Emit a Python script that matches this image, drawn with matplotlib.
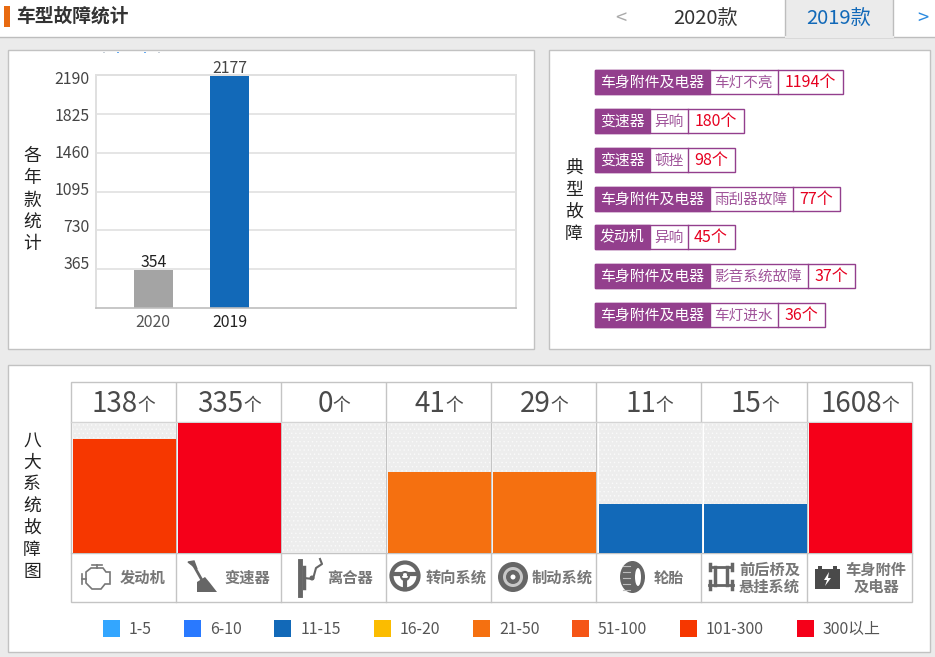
import matplotlib
matplotlib.use("Agg")
import numpy as np
import matplotlib.pyplot as plt
from matplotlib.patches import Rectangle, Circle, Ellipse, Polygon

plt.rcParams['font.family'] = ['Noto Sans CJK SC', 'DejaVu Sans']
plt.rcParams['hatch.linewidth'] = 0.5

# data
year_labels = ['2020', '2019']
year_counts = [354, 2177]
year_ticks = [365, 730, 1095, 1460, 1825, 2190]

fault_parts = ['车身附件及电器', '变速器', '变速器', '车身附件及电器', '发动机', '车身附件及电器', '车身附件及电器']
fault_names = ['车灯不亮', '异响', '顿挫', '雨刮器故障', '异响', '影音系统故障', '车灯进水']
fault_counts = [1194, 180, 98, 77, 45, 37, 36]

system_names = ['发动机', '变速器', '离合器', '转向系统', '制动系统', '轮胎', '前后桥及\n悬挂系统', '车身附件\n及电器']
system_counts = [138, 335, 0, 41, 29, 11, 15, 1608]
system_heights = [88, 100, 0, 62.5, 62.5, 37.5, 37.5, 100]

band_labels = ['1-5', '6-10', '11-15', '16-20', '21-50', '51-100', '101-300', '300以上']
band_limits = [5, 10, 15, 20, 50, 100, 300]
band_colors = ['#33a6ff', '#2979ff', '#1269b8', '#fbbc00', '#f57010', '#f55516', '#f63700', '#f50019']

# layout, pixels of the 935x657 picture
W, H = 935, 657
tag_top = [69.5, 108.5, 147.5, 186.5, 224.5, 263.5, 302.5]
tag_mid = [709.5, 649.5, 649.5, 709.5, 649.5, 709.5, 709.5]
tag_val = [777.5, 687.5, 687.5, 792.5, 687.5, 807.5, 777.5]
tag_end = [842.5, 743.5, 734.5, 839.5, 734.5, 854.5, 824.5]
legend_box = [103, 184, 274, 374, 473, 572, 680, 797]
legend_txt = [129, 210, 301, 400, 499, 598, 706, 823]
icon_label_x = [143, 247, 350, 456, 562, 669, 769.5, 876]
PURPLE = '#933f8d'
LINE = '#c4c4c4'


def px_rect(l, t, r, b):
    return [l / W, 1 - b / H, (r - l) / W, (b - t) / H]


def band_color(n):
    for limit, color in zip(band_limits, band_colors):
        if n <= limit:
            return color
    return band_colors[-1]


def stacked(ax, x, y0, s):
    for i, ch in enumerate(s):
        ax.text(x, y0 + 1.5 + i * 22, ch, fontsize=12.8, color='#222222', ha='center', va='center')


def number_unit(ax, cx, y, num, size1, size2, color, gap=0):
    # number and 个 centred together as one label
    a = ax.text(cx, y, str(num), fontsize=size1, color=color, ha='left', va='center')
    b = ax.text(cx, y + 2, '个', fontsize=size2, color=color, ha='left', va='center')
    r = fig.canvas.get_renderer()
    w1 = a.get_window_extent(r).width
    w2 = b.get_window_extent(r).width
    left = cx - (w1 + w2 + gap) / 2
    a.set_x(left)
    b.set_x(left + w1 + gap)


fig = plt.figure(figsize=(W / 100, H / 100), dpi=100)

# page chrome
bg = fig.add_axes([0, 0, 1, 1], zorder=0)
bg.set_xlim(0, W)
bg.set_ylim(H, 0)
bg.axis('off')
bg.add_patch(Rectangle((0, 0), W, H, fc='#ebebeb', ec='none'))
bg.add_patch(Rectangle((0, 0), W, 37, fc='white', ec='none'))
bg.plot([0, W], [37, 37], color='#bdbdbd', lw=1)
bg.add_patch(Rectangle((785, -2), 108, 39, fc='#ebebeb', ec='#bdbdbd', lw=1))
bg.plot([785.5, 892.5], [37, 37], color='#ebebeb', lw=1.5)
bg.add_patch(Rectangle((4, 6), 6, 21, fc='#e86a10', ec='none'))
bg.text(16, 16.5, '车型故障统计', fontsize=13.5, color='#333333', va='center', weight='bold')
bg.text(621, 18, '<', fontsize=14.5, color='#aaaaaa', ha='center', va='center')
bg.text(706, 18.5, '2020款', fontsize=14.5, color='#333333', ha='center', va='center')
bg.text(839, 18.5, '2019款', fontsize=14.5, color='#1269b8', ha='center', va='center')
bg.text(923, 18, '>', fontsize=14.5, color='#2a8ae0', ha='center', va='center')

for l, t, r, b in [(8, 50, 533.5, 349), (549, 50, 930, 349), (8, 365, 930, 652)]:
    bg.add_patch(Rectangle((l, t), r - l, b - t, fc='white', ec='#c2c2c2', lw=1))

# clipped legend specks at the top of the first panel
for x, c in zip([103, 117, 144, 158], ['#c8d0d8', '#66aaf0', '#66aaf0', '#c8d0d8']):
    bg.add_patch(Rectangle((x, 51.5), 2, 1.2, fc=c, ec='none'))

stacked(bg, 32, 155, '各年款统计')
stacked(bg, 574, 167, '典型故障')
stacked(bg, 32, 439, '八大系统故障图')

# yearly bars
ax = fig.add_axes(px_rect(96.3, 75, 516, 308), zorder=2)
ax.patch.set_alpha(0)
ax.set_ylim(0, 2190)
ax.set_xlim(-0.745, 4.745)
ax.set_yticks(year_ticks)
ax.set_yticklabels([])
ax.set_xticks([0, 1])
ax.set_xticklabels(year_labels, fontsize=11.4)
ax.get_xticklabels()[0].set_color('#555555')
ax.get_xticklabels()[1].set_color('#222222')
ax.tick_params(length=0, pad=4)
ax.grid(axis='y', color='#e0e0e0', lw=1.2)
ax.set_axisbelow(True)
for s in ['left', 'right', 'top']:
    ax.spines[s].set_color('#e0e0e0')
    ax.spines[s].set_linewidth(1.4)
ax.spines['bottom'].set_color('#bdbdbd')
ax.spines['bottom'].set_linewidth(1.2)
bars = ax.bar(range(len(year_counts)), year_counts, width=0.51, color=['#a4a4a4', '#1269b8'])
for b, v, c in zip(bars, year_counts, ['#222222', '#444444']):
    ax.annotate(str(v), (b.get_x() + b.get_width() / 2, v), xytext=(0, -0.5), textcoords='offset points',
                ha='center', va='bottom', fontsize=11.4, color=c)
# the page draws the tick labels on a slightly tighter step than the grid
for i, v in enumerate(year_ticks):
    bg.text(89.5, 264.5 - i * 37, str(v), fontsize=11.4, color='#444444', ha='right', va='center')

# typical faults
for i in range(len(fault_parts)):
    t, b = tag_top[i], tag_top[i] + 24
    bg.add_patch(Rectangle((595, t), tag_end[i] - 595, b - t, fc='white', ec=PURPLE, lw=1))
    bg.add_patch(Rectangle((595, t), tag_mid[i] - 595, b - t, fc=PURPLE, ec=PURPLE, lw=1))
    bg.plot([tag_val[i], tag_val[i]], [t, b], color=PURPLE, lw=1)
    yc = t + 13
    bg.text((595 + tag_mid[i]) / 2, yc, fault_parts[i], fontsize=10.7, color='white', ha='center', va='center')
    bg.text((tag_mid[i] + tag_val[i]) / 2, yc, fault_names[i], fontsize=10.5, color='#a0549a', ha='center', va='center')
    bg.text((tag_val[i] + tag_end[i]) / 2, yc, f'{fault_counts[i]}个', fontsize=11.5, color='#e60020', ha='center', va='center')

# eight systems table
bg.add_patch(Rectangle((71, 382), 841, 220, fc='white', ec=LINE, lw=1))
col_step = (912.3 - 71) / 8
for i in range(1, 8):
    x = 70.5 + i * col_step
    bg.plot([x, x], [383, 602], color=LINE, lw=1)
bg.plot([71, 912], [422, 422], color='#d4d4d4', lw=1)
bg.plot([71, 912], [553, 553], color=LINE, lw=1)
for i, n in enumerate(system_counts):
    number_unit(bg, 71 + (i + 0.5) * col_step, 404, n, 20, 12.8, '#4a4a4a')

ax2 = fig.add_axes(px_rect(71.7, 423, 913, 553), zorder=2)
ax2.patch.set_alpha(0)
ax2.set_xlim(-0.5, 7.5)
ax2.set_ylim(0, 100)
ax2.axis('off')
xs = np.arange(len(system_counts))
ax2.bar(xs, [100] * len(xs), width=0.98, color='#ededed', edgecolor='#fafafa', hatch='....', lw=0)
ax2.bar(xs, system_heights, width=0.98, color=[band_color(n) for n in system_counts], lw=0)

for name, x in zip(system_names, icon_label_x):
    if '\n' in name:
        top, bottom = name.split('\n')
        bg.text(x, 570, top, fontsize=11, color='#777777', ha='center', va='center', weight='bold')
        bg.text(x, 587, bottom, fontsize=11, color='#777777', ha='center', va='center', weight='bold')
    else:
        bg.text(x, 578, name, fontsize=11, color='#777777', ha='center', va='center', weight='bold')

# icons
ic = '#666666'
# engine
bg.add_patch(Polygon([(86, 572), (91, 568), (103, 568), (106, 572), (110, 572), (110, 584), (105, 584),
                      (101, 589), (92, 589), (86, 583)], closed=True, fc='none', ec='#777777', lw=1.2))
bg.plot([82, 82], [574, 584], color='#777777', lw=1.2)
bg.plot([82, 86], [579, 579], color='#777777', lw=1.2)
bg.plot([92, 102], [565, 565], color='#777777', lw=1.2)
bg.plot([97, 97], [565, 568], color='#777777', lw=1.2)
# gear stick
bg.add_patch(Polygon([(188, 562), (194, 561), (197, 569)], closed=True, fc=ic, ec=ic))
bg.plot([194, 203], [566, 582], color=ic, lw=2)
bg.add_patch(Polygon([(197, 592), (197, 582), (205, 577), (210, 583), (217, 592)], closed=True, fc=ic, ec='none'))
# clutch
bg.plot([300, 300], [561, 595], color=ic, lw=3.5)
bg.plot([304, 304], [567, 588], color=ic, lw=2.5)
bg.plot([304, 313, 316, 322, 320], [578, 579, 568, 564, 559], color=ic, lw=1.5)
bg.add_patch(Circle((312, 578), 2.5, fc=ic, ec='none'))
# steering wheel
bg.add_patch(Circle((405, 576), 13.5, fc='none', ec=ic, lw=3))
bg.add_patch(Circle((405, 576), 4, fc='none', ec=ic, lw=1.5))
bg.plot([392, 401], [574, 574], color=ic, lw=3)
bg.plot([409, 418], [574, 574], color=ic, lw=3)
bg.plot([405, 405], [580, 589], color=ic, lw=3)
# brake disc
bg.add_patch(Circle((513, 577), 15, fc=ic, ec='none'))
bg.add_patch(Circle((513, 577), 10, fc='#c8c8c8', ec='none'))
bg.add_patch(Circle((513, 577), 7, fc=ic, ec='none'))
bg.add_patch(Circle((513, 577), 2.5, fc='white', ec='none'))
# tyre
bg.add_patch(Ellipse((632.5, 577), 25, 32, fc=ic, ec='none'))
bg.add_patch(Ellipse((638, 577), 6, 18, fc='white', ec='none'))
for y in [566, 572, 578, 584, 590]:
    bg.plot([623, 630], [y, y], color='#bdbdbd', lw=0.8)
# axle
bg.plot([709, 733], [585, 585], color=ic, lw=2)
bg.plot([711, 731], [567, 567], color=ic, lw=2)
bg.plot([715, 715], [567, 585], color=ic, lw=2.5)
bg.plot([727, 727], [567, 585], color=ic, lw=2.5)
bg.plot([710, 710], [564, 570], color=ic, lw=2.5)
bg.plot([732, 732], [564, 570], color=ic, lw=2.5)
bg.plot([710, 710], [581, 589], color=ic, lw=2.5)
bg.plot([732, 732], [581, 589], color=ic, lw=2.5)
# battery
bg.add_patch(Rectangle((815, 569), 25, 20, fc='#4a4a4a', ec='none'))
bg.add_patch(Rectangle((818, 566), 4, 3, fc='#4a4a4a', ec='none'))
bg.add_patch(Rectangle((833, 566), 4, 3, fc='#4a4a4a', ec='none'))
bg.add_patch(Polygon([(829, 572), (824, 580), (827, 580), (825, 586), (831, 578), (828, 578)], closed=True, fc='white', ec='none'))

# legend
for x, tx, label, color in zip(legend_box, legend_txt, band_labels, band_colors):
    bg.add_patch(Rectangle((x, 620), 16.5, 17, fc=color, ec='none'))
    bg.text(tx, 629.5, label, fontsize=11.4, color='#555555', va='center')

fig.savefig('out.png', dpi=100)
